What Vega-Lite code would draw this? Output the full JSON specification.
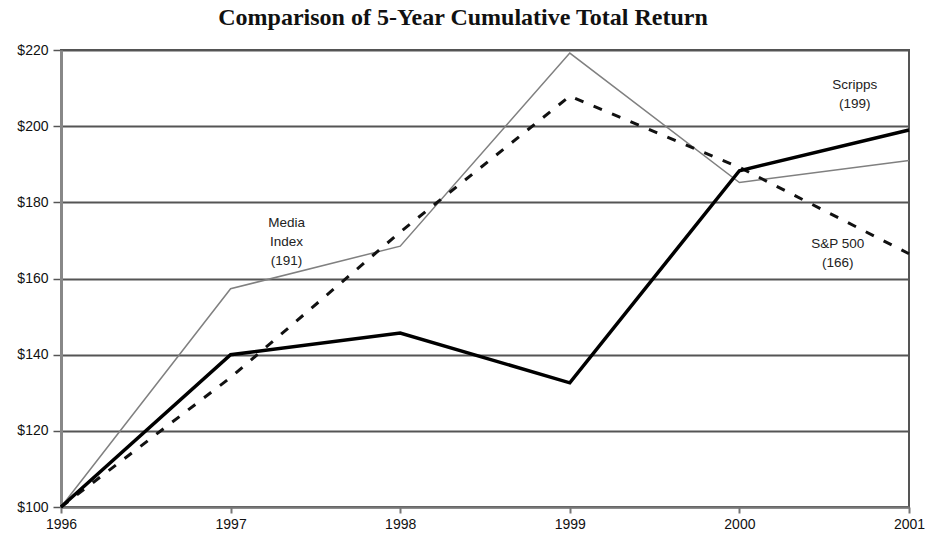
{
  "$schema": "https://vega.github.io/schema/vega-lite/v6.json",
  "width": 848,
  "height": 457,
  "autosize": {"type": "none"},
  "padding": {"left": 61, "top": 50, "right": 19, "bottom": 31},
  "background": "white",
  "title": {
    "text": "Comparison of 5-Year Cumulative Total Return",
    "font": "Liberation Serif",
    "fontSize": 24,
    "fontWeight": "bold",
    "color": "#111",
    "anchor": "middle",
    "dx": -22,
    "offset": 13
  },
  "config": {
    "view": {"stroke": "#555", "strokeWidth": 2},
    "axis": {
      "labelFont": "Liberation Sans",
      "labelFontSize": 14,
      "labelColor": "#111",
      "titleFontSize": 0
    }
  },
  "datasets": {
    "lines": [
      {"year": 1996, "value": 100, "series": "Scripps"},
      {"year": 1997, "value": 140, "series": "Scripps"},
      {"year": 1998, "value": 145.7, "series": "Scripps"},
      {"year": 1999, "value": 132.6, "series": "Scripps"},
      {"year": 2000, "value": 188.3, "series": "Scripps"},
      {"year": 2001, "value": 199, "series": "Scripps"},
      {"year": 1996, "value": 100, "series": "Media Index"},
      {"year": 1997, "value": 157.3, "series": "Media Index"},
      {"year": 1998, "value": 168.5, "series": "Media Index"},
      {"year": 1999, "value": 219.2, "series": "Media Index"},
      {"year": 2000, "value": 185.2, "series": "Media Index"},
      {"year": 2001, "value": 191, "series": "Media Index"},
      {"year": 1996, "value": 100, "series": "S&P 500"},
      {"year": 1997, "value": 134, "series": "S&P 500"},
      {"year": 1998, "value": 172.2, "series": "S&P 500"},
      {"year": 1999, "value": 207.9, "series": "S&P 500"},
      {"year": 2000, "value": 189.2, "series": "S&P 500"},
      {"year": 2001, "value": 166.5, "series": "S&P 500"}
    ],
    "labels": [
      {"year": 1997.33, "value": 174.6, "label": "Media\nIndex\n(191)"},
      {"year": 2000.68, "value": 210.8, "label": "Scripps\n(199)"},
      {"year": 2000.58, "value": 169.1, "label": "S&P 500\n(166)"}
    ]
  },
  "encoding": {
    "x": {
      "field": "year",
      "type": "quantitative",
      "scale": {"domain": [1996, 2001], "nice": false, "zero": false},
      "axis": {
        "title": null,
        "values": [1996, 1997, 1998, 1999, 2000, 2001],
        "format": "d",
        "grid": false,
        "labelFlush": false,
        "domainColor": "#777",
        "domainWidth": 2,
        "tickColor": "#777",
        "tickWidth": 2,
        "tickSize": 6,
        "labelPadding": 4
      }
    },
    "y": {
      "field": "value",
      "type": "quantitative",
      "scale": {"domain": [100, 220], "nice": false, "zero": false},
      "axis": {
        "title": null,
        "values": [100, 120, 140, 160, 180, 200, 220],
        "format": "$d",
        "grid": true,
        "gridColor": "#555",
        "gridWidth": 2,
        "gridOpacity": 1,
        "domainColor": "#888",
        "domainWidth": 3,
        "tickColor": "#555",
        "tickWidth": 1.5,
        "tickSize": 8,
        "labelPadding": 5
      }
    }
  },
  "layer": [
    {
      "data": {"name": "lines"},
      "transform": [{"filter": "datum.series === 'Media Index'"}],
      "mark": {"type": "line", "color": "#808080", "strokeWidth": 1.5},
      "encoding": {"order": {"field": "year", "type": "quantitative"}}
    },
    {
      "data": {"name": "lines"},
      "transform": [{"filter": "datum.series === 'S&P 500'"}],
      "mark": {"type": "line", "color": "#111", "strokeWidth": 3, "strokeDash": [9, 11], "strokeCap": "butt"},
      "encoding": {"order": {"field": "year", "type": "quantitative"}}
    },
    {
      "data": {"name": "lines"},
      "transform": [{"filter": "datum.series === 'Scripps'"}],
      "mark": {"type": "line", "color": "#000", "strokeWidth": 3.5, "strokeJoin": "miter"},
      "encoding": {"order": {"field": "year", "type": "quantitative"}}
    },
    {
      "data": {"name": "labels"},
      "mark": {
        "type": "text",
        "font": "Liberation Sans",
        "fontSize": 13.5,
        "color": "#222",
        "align": "center",
        "baseline": "middle",
        "lineBreak": "\n",
        "lineHeight": 19
      },
      "encoding": {
        "text": {"field": "label", "type": "nominal"}
      }
    }
  ]
}
